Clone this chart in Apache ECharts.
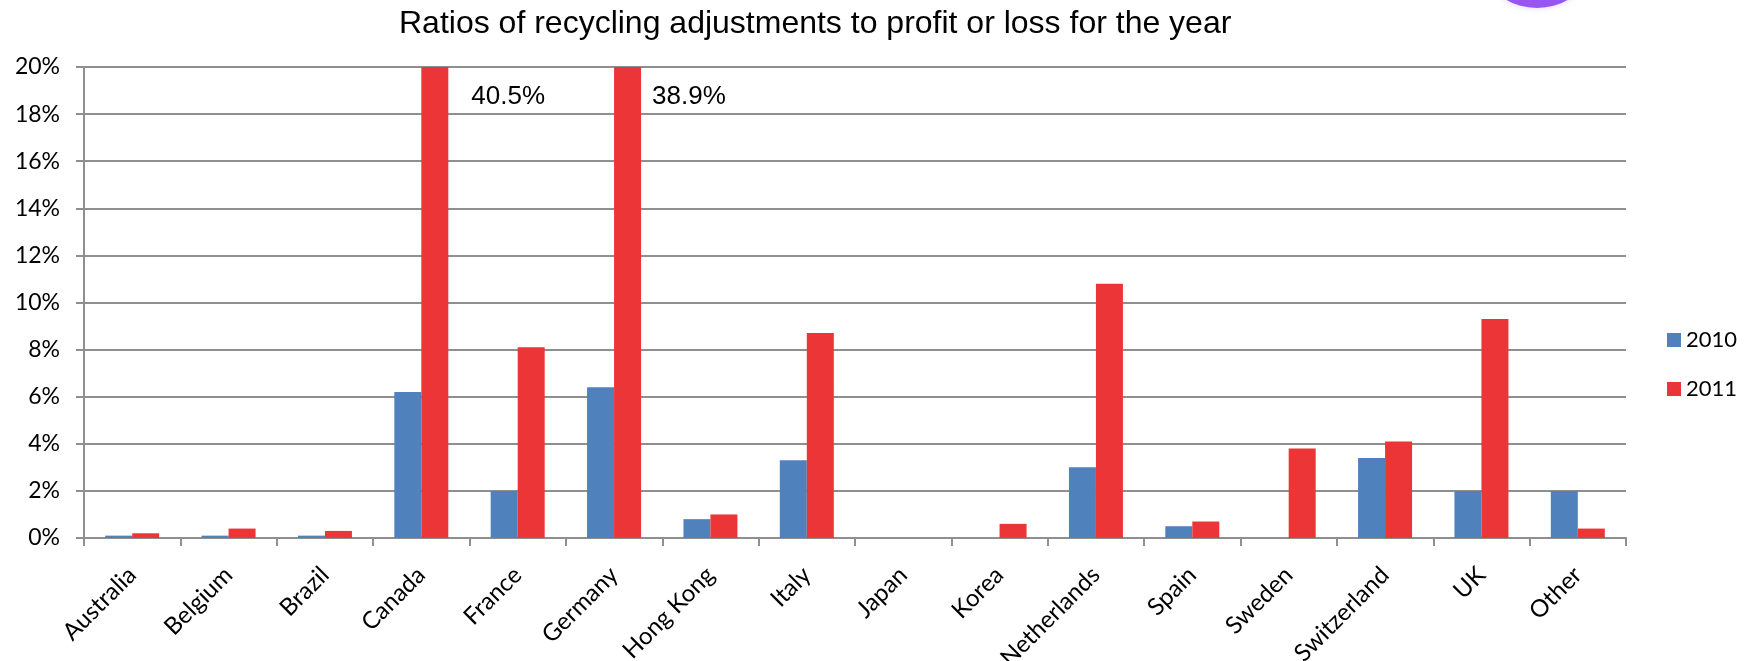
<!DOCTYPE html>
<html>
<head>
<meta charset="utf-8">
<script src="https://cdn.jsdelivr.net/npm/echarts@6/dist/echarts.min.js"></script>
<style>
html,body{margin:0;padding:0;background:#fff;}
#chart{width:1751px;height:661px;}
</style>
</head>
<body>
<div id="chart"></div>
<script>
const titleText = 'Ratios of recycling adjustments to profit or loss for the year';
const categories = ['Australia','Belgium','Brazil','Canada','France','Germany','Hong Kong','Italy','Japan','Korea','Netherlands','Spain','Sweden','Switzerland','UK','Other'];
const seriesNames = ['2010','2011'];
const values2010 = [0.1,0.1,0.1,6.2,2.0,6.4,0.8,3.3,0,0,3.0,0.5,0,3.4,2.0,2.0];
const values2011 = [0.2,0.4,0.3,40.5,8.1,38.9,1.0,8.7,0,0.6,10.8,0.7,3.8,4.1,9.3,0.4];
const yMin = 0, yMax = 20, yStep = 2;

const labelFont = 'Lato, "Open Sans", sans-serif';
const arialFont = '"Liberation Sans", Arial, sans-serif';
const gridGray = '#8f8f8f';
const blue = '#4F81BD', red = '#EC3537';

// labels for bars that run off the top of the axis
const overflowLabelX = {3: 50, 5: 38};
const data2011 = values2011.map((v, i) => v > yMax ? {
  value: v,
  label: {
    show: true, position: [overflowLabelX[i] || 45, 30], align: 'left', verticalAlign: 'middle',
    formatter: p => p.value.toFixed(1) + '%',
    fontFamily: arialFont, fontSize: 26, color: '#000'
  }
} : v);

const chart = echarts.init(document.getElementById('chart'), null, {renderer: 'canvas'});
chart.setOption({
  animation: false,
  backgroundColor: '#fff',
  title: {
    text: titleText, left: 399, top: 8, padding: 0,
    textStyle: {fontFamily: arialFont, fontSize: 32, fontWeight: 'normal', color: '#000'}
  },
  graphic: [{
    type: 'circle', x: 1537, y: -20, scaleX: 1.55, shape: {cx: 0, cy: 0, r: 28},
    style: {fill: '#9955F2', shadowBlur: 6, shadowColor: 'rgba(200,180,255,0.6)'}
  }],
  legend: {
    orient: 'vertical', left: 1662, top: 324, itemWidth: 14, itemHeight: 14, itemGap: 27,
    icon: 'rect', data: seriesNames,
    textStyle: {fontFamily: labelFont, fontSize: 22, color: '#000', lineHeight: 22}
  },
  grid: {left: 84, right: 125, top: 67, bottom: 123, containLabel: false, outerBoundsMode: 'none'},
  xAxis: {
    type: 'category', data: categories,
    axisLine: {lineStyle: {color: gridGray, width: 2}},
    axisTick: {show: true, length: 8, lineStyle: {color: gridGray, width: 2}},
    axisLabel: {interval: 0, rotate: 45, margin: 33, fontFamily: labelFont, fontSize: 24, color: '#000'}
  },
  yAxis: {
    type: 'value', min: yMin, max: yMax, interval: yStep,
    axisLine: {show: true, lineStyle: {color: gridGray, width: 2}},
    axisTick: {show: true, length: 8, lineStyle: {color: gridGray, width: 2}},
    splitLine: {lineStyle: {color: gridGray, width: 2}},
    axisLabel: {formatter: '{value}%', margin: 24, fontFamily: labelFont, fontSize: 23, color: '#000'}
  },
  series: [
    {name: seriesNames[0], type: 'bar', data: values2010, barWidth: 27, barGap: '0%',
     itemStyle: {color: blue}},
    {name: seriesNames[1], type: 'bar', data: data2011, barWidth: 27, clip: true,
     itemStyle: {color: red}}
  ]
});
</script>
</body>
</html>
